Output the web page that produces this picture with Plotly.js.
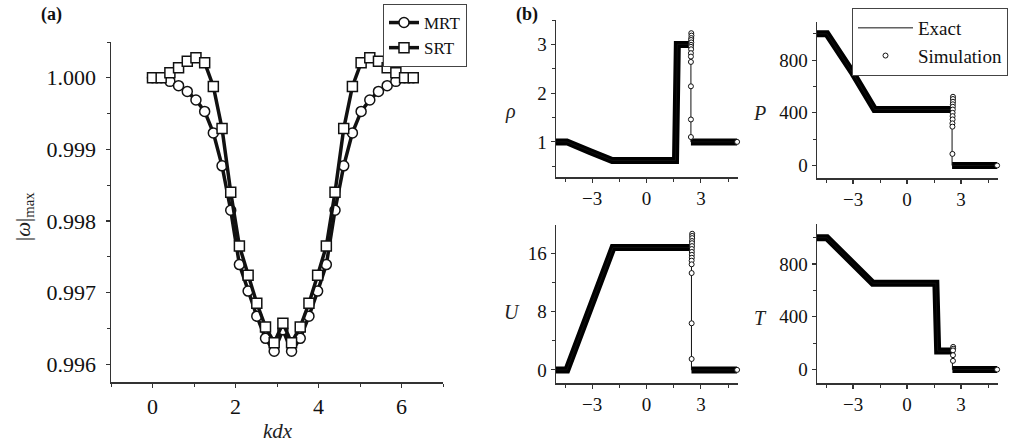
<!DOCTYPE html>
<html>
<head>
<meta charset="utf-8">
<script src="https://cdn.plot.ly/plotly-3.0.1.min.js"></script>
<style>
html,body{margin:0;padding:0;background:#fff;}
#chart{width:1010px;height:445px;}
#chart .xtick text, #chart .ytick text { font-family: 'Liberation Serif', 'Times New Roman', serif !important; }
</style>
</head>
<body>
<div id="chart"></div>
<script>
// ---------- Panel (a) data ----------
const kdx = [0,0.209,0.419,0.628,0.838,1.047,1.257,1.466,1.676,1.885,2.094,2.304,2.513,2.723,2.932,3.142,3.351,3.560,3.770,3.979,4.189,4.398,4.608,4.817,5.027,5.236,5.445,5.655,5.864,6.074,6.283];
const mrt = [1.00000,1.00000,0.99995,0.99989,0.99981,0.99969,0.99953,0.99923,0.99877,0.99815,0.99739,0.99702,0.99667,0.99636,0.99618,0.99648,0.99618,0.99636,0.99667,0.99702,0.99739,0.99815,0.99877,0.99923,0.99953,0.99969,0.99981,0.99989,0.99995,1.00000,1.00000];
const srt = [1.00000,1.00000,1.00007,1.00014,1.00023,1.00028,1.00021,0.99988,0.99929,0.99840,0.99765,0.99724,0.99685,0.99652,0.99630,0.99657,0.99630,0.99652,0.99685,0.99724,0.99765,0.99840,0.99929,0.99988,1.00021,1.00028,1.00023,1.00014,1.00007,1.00000,1.00000];

// ---------- Panel (b) data ----------
const rhoX = [-5,-4.4,-3.1,-1.9,1.6,1.7,2.45,2.45,5];
const rhoExact = [1,1,0.8,0.62,0.62,3.0,3.0,1,1];
const rhoSimX = [2.47,2.48,2.47,2.46,2.47,2.46,2.45,2.46,2.45,2.45,2.45,2.45,2.45,2.45,5];
const rhoSim = [3.23,3.18,3.13,3.09,3.04,2.99,2.95,2.90,2.82,2.75,2.64,2.14,1.46,1.10,1];

const pX = [-5,-4.45,-3.0,-1.8,2.5,2.5,5];
const pExact = [1000,1000,700,425,425,0,0];
const pSimX = [2.55,2.55,2.55,2.54,2.54,2.54,2.53,2.53,2.53,2.52,2.52,2.52,5];
const pSim = [522,505,484,465,446,425,400,375,350,320,295,88,0];

const uX = [-5,-4.4,-1.85,2.48,2.48,5];
const uExact = [0,0,16.8,16.8,0,0];
const uSimX = [2.52,2.52,2.52,2.51,2.51,2.51,2.50,2.50,2.50,2.50,2.49,2.49,2.49,2.49,2.49,5];
const uSim = [18.7,18.4,18.1,17.7,17.4,17.0,16.6,16.2,15.8,15.4,15.0,14.5,13.3,6.4,1.5,0];

const tX = [-5,-4.45,-1.9,1.6,1.7,2.52,2.52,5];
const tExact = [1000,1000,655,655,140,140,0,0];
const tSimX = [2.56,2.56,2.55,2.55,2.55,5];
const tSim = [172,158,145,109,66,0];

const FONT = 'Liberation Serif';

function splitAtJump(x, y) {
  const bx = [], by = [];
  for (let i = 0; i < x.length; i++) {
    bx.push(x[i]); by.push(y[i]);
    if (i < x.length - 1 && x[i] === x[i + 1]) { bx.push(null); by.push(null); }
  }
  return {x: bx, y: by};
}

const traces = [
  {x: kdx, y: mrt, name: 'MRT', mode: 'lines+markers', xaxis: 'x', yaxis: 'y', legend: 'legend',
   line: {color: '#111', width: 3.5},
   marker: {symbol: 'circle', size: 10, color: 'white', line: {color: '#111', width: 1.5}}},
  {x: kdx, y: srt, name: 'SRT', mode: 'lines+markers', xaxis: 'x', yaxis: 'y', legend: 'legend',
   line: {color: '#111', width: 3.5},
   marker: {symbol: 'square', size: 10, color: 'white', line: {color: '#111', width: 1.5}}}
];

const panels = [
  {x: rhoX, y: rhoExact, sx: rhoSimX, sy: rhoSim, xa: 'x2', ya: 'y2'},
  {x: pX, y: pExact, sx: pSimX, sy: pSim, xa: 'x3', ya: 'y3'},
  {x: uX, y: uExact, sx: uSimX, sy: uSim, xa: 'x4', ya: 'y4'},
  {x: tX, y: tExact, sx: tSimX, sy: tSim, xa: 'x5', ya: 'y5'}
];
panels.forEach((p, k) => {
  const b = splitAtJump(p.x, p.y);
  traces.push({x: b.x, y: b.y, mode: 'lines', xaxis: p.xa, yaxis: p.ya, showlegend: false,
    line: {color: '#000', width: 7}, connectgaps: false, hoverinfo: 'skip'});
  traces.push({x: p.x, y: p.y, name: 'Exact', mode: 'lines', xaxis: p.xa, yaxis: p.ya,
    legend: 'legend2', showlegend: k === 0, line: {color: '#111', width: 1}});
  traces.push({x: p.sx, y: p.sy, name: 'Simulation', mode: 'markers', xaxis: p.xa, yaxis: p.ya,
    legend: 'legend2', showlegend: k === 0, cliponaxis: false,
    marker: {symbol: 'circle', size: 5, color: 'white', line: {color: '#111', width: 1}}});
});

const W = 1010, H = 445;
const TICK_A = {family: FONT, size: 22, color: '#111'};
const TICK_B = {family: FONT, size: 19, color: '#111'};
function ax(extra, tf) {
  const o = {
    showline: true, linecolor: '#333', linewidth: 1.5, ticks: 'outside', ticklen: 4,
    tickwidth: 1.2, tickcolor: '#333', showgrid: false, zeroline: false, fixedrange: true,
    showticklabels: true, tickfont: tf
  };
  return Object.assign(o, extra);
}
const dx = (a, b) => [a / W, b / W];
const dy = (top, bot) => [(H - bot) / H, (H - top) / H];
const minor = (d) => ({dtick: d, ticks: 'outside', ticklen: 3, tickcolor: '#333', tickwidth: 1});
function note(text, px, py, size, extra) {
  return Object.assign({text: text, x: px / W, y: 1 - py / H, xref: 'paper', yref: 'paper',
    xanchor: 'center', yanchor: 'middle', showarrow: false,
    font: {family: FONT, size: size, color: '#222'}}, extra || {});
}

const layout = {
  width: W, height: H, margin: {l: 0, r: 0, t: 0, b: 0},
  paper_bgcolor: 'white', plot_bgcolor: 'white',
  font: {family: FONT, size: 19, color: '#111'},
  showlegend: true,
  xaxis: ax({domain: dx(111, 443), range: [-1, 7], tick0: 0, dtick: 2, minor: minor(1), anchor: 'y'}, TICK_A),
  yaxis: ax({domain: dy(42, 382), range: [0.99575, 1.0005], tick0: 0.996, dtick: 0.001, tickformat: '.3f',
    minor: minor(0.0005), anchor: 'x', ticklabelstandoff: 5}, TICK_A),
  xaxis2: ax({domain: dx(556, 738), range: [-5, 5.05], tick0: 0, dtick: 3, minor: minor(1.5), anchor: 'y2'}, TICK_B),
  yaxis2: ax({domain: dy(20, 177), range: [0.28, 3.5], tick0: 0, dtick: 1, minor: minor(0.5), anchor: 'x2'}, TICK_B),
  xaxis3: ax({domain: dx(817, 998), range: [-5, 5.05], tick0: 0, dtick: 3, minor: minor(1.5), anchor: 'y3'}, TICK_B),
  yaxis3: ax({domain: dy(22, 178), range: [-95, 1090], tick0: 0, dtick: 400, minor: minor(200), anchor: 'x3'}, TICK_B),
  xaxis4: ax({domain: dx(556, 738), range: [-5, 5.05], tick0: 0, dtick: 3, minor: minor(1.5), anchor: 'y4'}, TICK_B),
  yaxis4: ax({domain: dy(225, 383), range: [-1.8, 19.9], tick0: 0, dtick: 8, minor: minor(4), anchor: 'x4'}, TICK_B),
  xaxis5: ax({domain: dx(817, 998), range: [-5, 5.05], tick0: 0, dtick: 3, minor: minor(1.5), anchor: 'y5'}, TICK_B),
  yaxis5: ax({domain: dy(224, 383), range: [-102, 1104], tick0: 0, dtick: 400, minor: minor(200), anchor: 'x5'}, TICK_B),
  legend: {x: 383 / W, y: 1 - 4 / H, xanchor: 'left', yanchor: 'top', bgcolor: 'white',
    bordercolor: '#444', borderwidth: 1, font: {family: FONT, size: 17, color: '#111'},
    tracegroupgap: 0, itemwidth: 30},
  legend2: {x: 852 / W, y: 1 - 8 / H, xanchor: 'left', yanchor: 'top', bgcolor: 'white',
    bordercolor: '#444', borderwidth: 1, font: {family: FONT, size: 19, color: '#111'},
    tracegroupgap: 0, itemwidth: 55},
  annotations: [
    note('<b>(a)</b>', 51, 15, 18, {font: {family: FONT, size: 18, color: '#111'}}),
    note('<b>(b)</b>', 527, 15, 18, {font: {family: FONT, size: 18, color: '#111'}}),
    note('<i>kdx</i>', 278, 431, 21),
    note('|<i>ω</i>|<sub>max</sub>', 24, 217, 21, {textangle: -90}),
    note('<i>ρ</i>', 510, 111, 20),
    note('<i>U</i>', 512, 312, 20),
    note('<i>P</i>', 759, 113, 20),
    note('<i>T</i>', 760, 318, 20)
  ]
};

Plotly.newPlot('chart', traces, layout, {displayModeBar: false, staticPlot: true});
</script>
</body>
</html>
